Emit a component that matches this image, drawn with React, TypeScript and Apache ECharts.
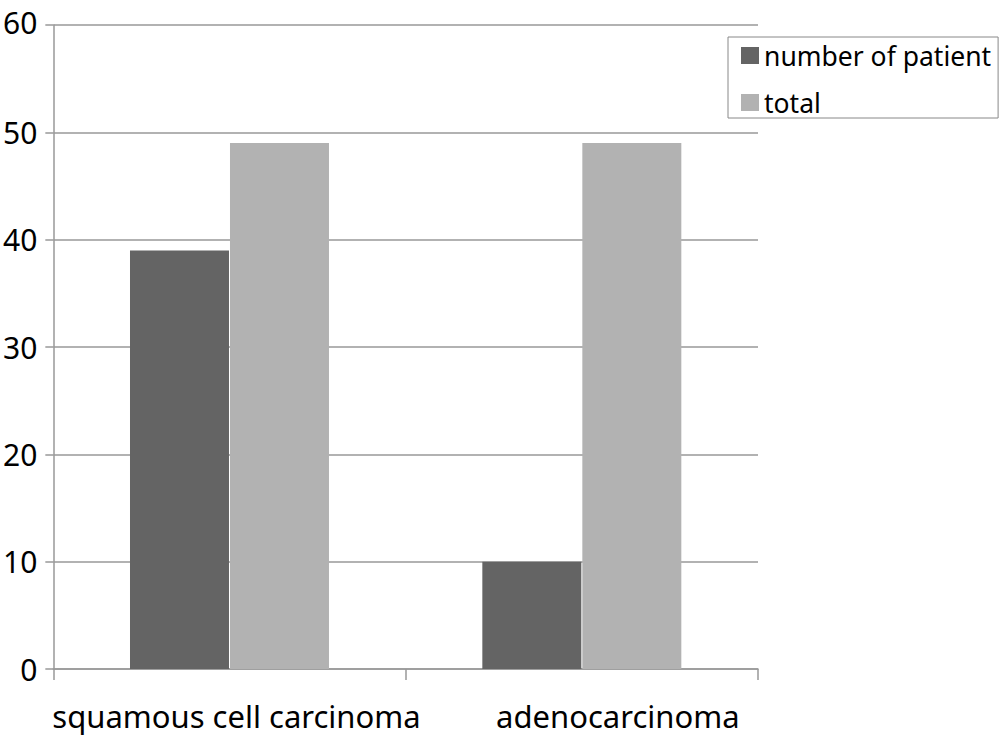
import React, { useEffect, useRef } from "react";
import * as echarts from "echarts";

const categories = ["squamous cell carcinoma", "adenocarcinoma"];
const patientCounts = [39, 10];
const totals = [49, 49];
const yTicks = { min: 0, max: 60, interval: 10 };

const FONT = "'Noto Sans', 'DejaVu Sans', sans-serif";
const LINE = "#999999";

// Category labels sit a little right of their slot centres
const labelShift = [14, 72];

export default function App() {
  const ref = useRef<HTMLDivElement>(null);

  useEffect(() => {
    document.body.style.margin = "0";
    const chart = echarts.init(ref.current!, null, { renderer: "svg" });
    chart.setOption({
      animation: false,
      backgroundColor: "#ffffff",
      textStyle: { fontFamily: FONT },
      grid: { left: 53, right: 247, top: 25, bottom: 67, containLabel: false },
      legend: {
        orient: "vertical",
        left: 728,
        top: 37,
        padding: [5, 7, 2, 13],
        itemGap: 20,
        itemWidth: 18,
        itemHeight: 17,
        borderColor: "#888888",
        borderWidth: 1,
        icon: "rect",
        textStyle: { fontSize: 26.5, color: "#000", fontFamily: FONT },
        data: ["number of patient", "total"],
      },
      xAxis: {
        type: "category",
        data: categories.map((name, i) => ({
          value: name,
          textStyle: { padding: [0, 0, 0, labelShift[i]] },
        })),
        axisLine: { lineStyle: { color: LINE, width: 1.5 } },
        axisTick: { show: true, length: 11, lineStyle: { color: LINE, width: 1.5 } },
        axisLabel: { fontSize: 31, color: "#000", margin: 31, interval: 0, fontFamily: FONT },
      },
      yAxis: {
        type: "value",
        min: yTicks.min,
        max: yTicks.max,
        interval: yTicks.interval,
        axisLine: { show: true, lineStyle: { color: LINE, width: 1.5 } },
        axisTick: { show: true, length: 8, lineStyle: { color: LINE, width: 1.5 } },
        axisLabel: {
          fontSize: 30,
          color: "#000",
          margin: 16,
          fontFamily: FONT,
          formatter: (v: number) => (v === yTicks.max ? `{top|${v}}` : `${v}`),
          rich: { top: { fontSize: 30, fontFamily: FONT, color: "#000", padding: [0, 0, 6, 0] } },
        },
        splitLine: { show: true, lineStyle: { color: LINE, width: 1.5 } },
      },
      series: [
        {
          name: "number of patient",
          type: "bar",
          data: patientCounts,
          barWidth: 99,
          barGap: "1%",
          itemStyle: { color: "#646464" },
        },
        {
          name: "total",
          type: "bar",
          data: totals,
          barWidth: 99,
          itemStyle: { color: "#b2b2b2" },
        },
      ],
    });
    return () => chart.dispose();
  }, []);

  return <div ref={ref} style={{ width: 1005, height: 736 }} />;
}
